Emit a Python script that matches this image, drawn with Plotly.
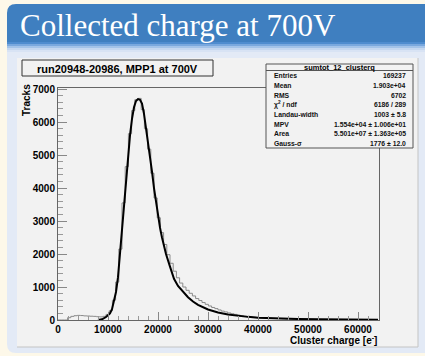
import plotly.graph_objects as go

# ---- histogram sumtot_12_clusterq : 100 bins of 640 e- starting at 0 ----
bin_start = 0
bin_width = 640
counts = [
    0, 0, 0, 70, 110, 130, 140, 135, 125, 120,
    115, 110, 100, 95, 110, 170, 280, 600, 1150, 2150,
    3550, 4650, 5650, 6350, 6680, 6720, 6380, 5800, 5180, 4450,
    3700, 3100, 2650, 2290, 1980, 1720, 1480, 1280, 1120, 1000,
    900, 810, 730, 650, 590, 530, 475, 425, 380, 345,
    305, 270, 245, 215, 190, 170, 145, 128, 112, 100,
    92, 84, 76, 68, 62, 57, 52, 48, 44, 40,
    37, 34, 31, 29, 27, 25, 23, 21, 20, 19,
    17, 16, 15, 14, 13, 12, 12, 11, 10, 10,
    9, 9, 8, 8, 7, 7, 7, 6, 6, 6,
]

# ---- Landau (x) Gauss fit curve ----
fit_x = [8000, 8800, 9600, 10400, 10800, 11200, 11600, 12000, 12400, 12800,
         13200, 13600, 14000, 14400, 14800, 15200, 15600, 16000, 16400, 16800,
         17200, 17600, 18000, 18400, 18800, 19200, 19600, 20000, 20400, 20800,
         21600, 22400, 23200, 24000, 25000, 26000, 27000, 28000, 30000, 32000,
         34000, 36000, 38000, 40000, 44000, 48000, 52000, 56000, 60000, 64000]
fit_y = [0, 20, 90, 200, 330, 560, 850, 1300, 2000, 2900,
         3650, 4350, 5000, 5600, 6100, 6450, 6640, 6700, 6680, 6560,
         6250, 5850, 5400, 4950, 4500, 4000, 3560, 3150, 2800, 2500,
         2000, 1620, 1250, 1030, 860, 690, 560, 460, 320, 230,
         170, 125, 95, 70, 45, 30, 20, 14, 10, 7]

# ---- statistics box ----
stat_title = "sumtot_12_clusterq"
stat_names = ["Entries", "Mean", "RMS", "χ<sup>2</sup> / ndf", "Landau-width",
              "MPV", "Area", "Gauss-σ"]
stat_values = ["169237", "1.903e+04", "6702", "6186 / 289", "1003 ± 5.8",
               "1.554e+04 ± 1.006e+01", "5.501e+07 ± 1.363e+05", "1776 ± 12.0"]

slide_title = "Collected charge at 700V"
hist_title = "run20948-20986, MPP1 at 700V"
x_title = "Cluster charge [e<sup>-</sup>]"
y_title = "Tracks"

# ---- page geometry (pixels) ----
W, H = 425, 356
L, R, T, B = 58, 46, 88, 36
PW, PH = W - L - R, H - T - B


def px(x):
    return (x - L) / PW


def py(y):
    return (H - B - y) / PH


def rect(x0, y0, x1, y1, fill, line=None, lw=1, layer="below"):
    return dict(type="rect", xref="paper", yref="paper",
                x0=px(x0), x1=px(x1), y0=py(y1), y1=py(y0),
                fillcolor=fill, layer=layer,
                line=dict(color=line or "rgba(0,0,0,0)", width=lw if line else 0))


def hline(x0, x1, y, color, lw=1, layer="below"):
    return dict(type="line", xref="paper", yref="paper",
                x0=px(x0), x1=px(x1), y0=py(y), y1=py(y),
                line=dict(color=color, width=lw), layer=layer)


def vline(x, y0, y1, color, lw=1, layer="below"):
    return dict(type="line", xref="paper", yref="paper",
                x0=px(x), x1=px(x), y0=py(y0), y1=py(y1),
                line=dict(color=color, width=lw), layer=layer)


def rounded(x0, y0, x1, y1, r, corner, fill):
    # rectangle with one rounded corner ("tl" or "bl")
    if corner == "tl":
        d = (f"M {px(x0)},{py(y1)} L {px(x0)},{py(y0 + r)} "
             f"Q {px(x0)},{py(y0)} {px(x0 + r)},{py(y0)} "
             f"L {px(x1)},{py(y0)} L {px(x1)},{py(y1)} Z")
    else:
        d = (f"M {px(x0)},{py(y0)} L {px(x0)},{py(y1 - r)} "
             f"Q {px(x0)},{py(y1)} {px(x0 + r)},{py(y1)} "
             f"L {px(x1)},{py(y1)} L {px(x1)},{py(y0)} Z")
    return dict(type="path", xref="paper", yref="paper", path=d,
                fillcolor=fill, line=dict(width=0), layer="below")


shapes = [
    rounded(7, 4, 430, 44, 9, "tl", "#3f7fc0"),
    rounded(7, 43, 430, 353, 9, "bl", "#e3eaf6"),
    rect(7, 42, 430, 44, "#4e8ccf"),
    rect(7, 44, 430, 46, "#79a8de"),
    rect(7, 46, 430, 48, "#a3c3e9"),
    rect(7, 48, 430, 50, "#c4d7f0"),
    rect(7, 50, 430, 52, "#d8e3f4"),
    # ROOT canvas
    rect(17, 58, 418, 347, "#f2f2f2"),
    vline(418, 58, 347, "#c4c4c4"),
    hline(17, 418, 347, "#c4c4c4"),
    # title pave
    rect(22, 60, 213, 76, "#f2f2f2", "#333333", 1, "above"),
    # stats pave
    rect(266, 64, 413, 148, "#f2f2f2", "#555555", 1, "above"),
    hline(266, 413, 70.5, "#555555", 1, "above"),
]

F = "Liberation Sans"
annotations = [
    dict(text=slide_title, x=px(17.5), y=py(25), xanchor="left", yanchor="middle",
         font=dict(family="Liberation Serif", size=31, color="white")),
    dict(text=hist_title, x=px(117.5), y=py(68.5), xanchor="center", yanchor="middle",
         font=dict(family=F, size=11, color="black", weight="bold")),
    dict(text=stat_title, x=px(339.5), y=py(67.3), xanchor="center", yanchor="middle",
         font=dict(family=F, size=7.5, color="black", weight="bold")),
    dict(text=y_title, x=px(27), y=py(82), xanchor="center", yanchor="top",
         textangle=-90, font=dict(family=F, size=10, color="black", weight="bold")),
    dict(text=x_title, x=px(379), y=py(340), xanchor="right", yanchor="middle",
         font=dict(family=F, size=10, color="black", weight="bold")),
]
for i, (name, val) in enumerate(zip(stat_names, stat_values)):
    yy = py(75.8 + 9.65 * i)
    annotations.append(dict(text=name, x=px(272), y=yy, xanchor="left", yanchor="middle",
                            font=dict(family=F, size=6.8, color="#111", weight="bold")))
    annotations.append(dict(text=val, x=px(407.5), y=yy, xanchor="right", yanchor="middle",
                            font=dict(family=F, size=6.8, color="#111", weight="bold")))
for a in annotations:
    a.update(xref="paper", yref="paper", showarrow=False)

edges = [bin_start + bin_width * i for i in range(len(counts) + 1)]
steps = counts + [counts[-1]]

fig = go.Figure()
fig.add_trace(go.Scatter(x=edges, y=steps, mode="lines", line_shape="hv",
                         line=dict(color="#8a8a8a", width=1), hoverinfo="skip"))
fig.add_trace(go.Scatter(x=fit_x, y=fit_y, mode="lines",
                         line=dict(color="black", width=2), hoverinfo="skip"))

tickfont = dict(family=F, size=10, color="black", weight="bold")
fig.update_layout(
    width=W, height=H,
    margin=dict(l=L, r=R, t=T, b=B, pad=0),
    paper_bgcolor="#fdf8e9",
    plot_bgcolor="rgba(0,0,0,0)",
    showlegend=False,
    shapes=shapes,
    annotations=annotations,
    xaxis=dict(range=[0, 64200], tick0=0, dtick=10000, tickformat="d",
               ticks="inside", ticklen=8,
               tickcolor="#888", tickwidth=1, showline=True, linecolor="#666",
               linewidth=1, mirror=True, showgrid=False, zeroline=False,
               tickfont=tickfont,
               minor=dict(ticks="inside", dtick=2000, ticklen=4, tickcolor="#999",
                          showgrid=False)),
    yaxis=dict(range=[0, 7035], tick0=0, dtick=1000, tickformat="d",
               ticks="inside", ticklen=9,
               tickcolor="#888", tickwidth=1, showline=True, linecolor="#666",
               linewidth=1, mirror=True, showgrid=False, zeroline=False,
               tickfont=tickfont,
               minor=dict(ticks="inside", dtick=200, ticklen=5, tickcolor="#999",
                          showgrid=False)),
)

fig.write_html("out.html")
